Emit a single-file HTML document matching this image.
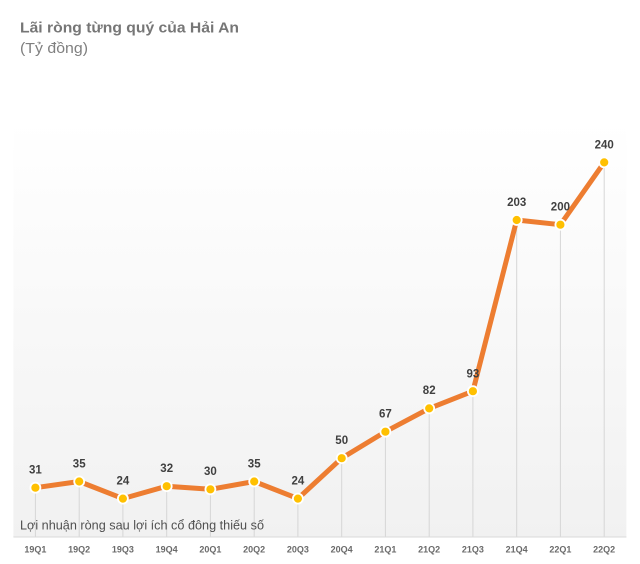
<!DOCTYPE html>
<html>
<head>
<meta charset="utf-8">
<style>
  html,body{margin:0;padding:0;background:#fff;}
  svg{display:block;}
  text{font-family:"Liberation Sans", sans-serif;}
</style>
</head>
<body>
<svg width="640" height="564" viewBox="0 0 640 564" xmlns="http://www.w3.org/2000/svg">
  <defs>
    <linearGradient id="bg" x1="0" y1="0" x2="0" y2="1">
      <stop offset="0" stop-color="#ffffff"/>
      <stop offset="1" stop-color="#f1f1f1"/>
    </linearGradient>
  </defs>
  <rect x="0" y="0" width="640" height="564" fill="#fff"/>
  <text x="20" y="32.5" font-size="14.5" font-weight="bold" fill="#767676" textLength="219" lengthAdjust="spacingAndGlyphs">Lãi ròng từng quý của Hải An</text>
  <text x="20" y="53" font-size="14.5" fill="#808080" textLength="68" lengthAdjust="spacingAndGlyphs">(Tỷ đồng)</text>

  <rect x="13.4" y="121" width="613" height="416" fill="url(#bg)"/>

  <g stroke="#d6d6d6" stroke-width="1">
    <line x1="35.4" y1="487.7" x2="35.4" y2="537"/>
    <line x1="79.2" y1="481.5" x2="79.2" y2="537"/>
    <line x1="122.9" y1="498.6" x2="122.9" y2="537"/>
    <line x1="166.7" y1="486.2" x2="166.7" y2="537"/>
    <line x1="210.4" y1="489.3" x2="210.4" y2="537"/>
    <line x1="254.2" y1="481.5" x2="254.2" y2="537"/>
    <line x1="297.9" y1="498.6" x2="297.9" y2="537"/>
    <line x1="341.7" y1="458.2" x2="341.7" y2="537"/>
    <line x1="385.4" y1="431.7" x2="385.4" y2="537"/>
    <line x1="429.2" y1="408.4" x2="429.2" y2="537"/>
    <line x1="472.9" y1="391.2" x2="472.9" y2="537"/>
    <line x1="516.7" y1="220.0" x2="516.7" y2="537"/>
    <line x1="560.4" y1="224.7" x2="560.4" y2="537"/>
    <line x1="604.2" y1="162.4" x2="604.2" y2="537"/>
  </g>
  <line x1="13.4" y1="537" x2="626.4" y2="537" stroke="#d9d9d9" stroke-width="1"/>

  <text x="20" y="529.5" font-size="13" fill="#505050" textLength="244" lengthAdjust="spacingAndGlyphs">Lợi nhuận ròng sau lợi ích cổ đông thiếu số</text>

  <polyline fill="none" stroke="#ED7D31" stroke-width="5" stroke-linejoin="round"
    points="35.4,487.7 79.2,481.5 122.9,498.6 166.7,486.2 210.4,489.3 254.2,481.5 297.9,498.6 341.7,458.2 385.4,431.7 429.2,408.4 472.9,391.2 516.7,220.0 560.4,224.7 604.2,162.4"/>

  <g fill="#FFC000" stroke="#ffffff" stroke-width="1.8">
    <circle cx="35.4" cy="487.7" r="5"/>
    <circle cx="79.2" cy="481.5" r="5"/>
    <circle cx="122.9" cy="498.6" r="5"/>
    <circle cx="166.7" cy="486.2" r="5"/>
    <circle cx="210.4" cy="489.3" r="5"/>
    <circle cx="254.2" cy="481.5" r="5"/>
    <circle cx="297.9" cy="498.6" r="5"/>
    <circle cx="341.7" cy="458.2" r="5"/>
    <circle cx="385.4" cy="431.7" r="5"/>
    <circle cx="429.2" cy="408.4" r="5"/>
    <circle cx="472.9" cy="391.2" r="5"/>
    <circle cx="516.7" cy="220.0" r="5"/>
    <circle cx="560.4" cy="224.7" r="5"/>
    <circle cx="604.2" cy="162.4" r="5"/>
  </g>

  <g font-size="11.5" font-weight="bold" fill="#404040" text-anchor="middle">
    <text x="35.4" y="473.5">31</text>
    <text x="79.2" y="467.5">35</text>
    <text x="122.9" y="484.5">24</text>
    <text x="166.7" y="472">32</text>
    <text x="210.4" y="475">30</text>
    <text x="254.2" y="467.5">35</text>
    <text x="297.9" y="484.5">24</text>
    <text x="341.7" y="444">50</text>
    <text x="385.4" y="417.5">67</text>
    <text x="429.2" y="394">82</text>
    <text x="472.9" y="377.5">93</text>
    <text x="516.7" y="206">203</text>
    <text x="560.4" y="210.5">200</text>
    <text x="604.2" y="148.5">240</text>
  </g>

  <g font-size="9" font-weight="bold" fill="#6a6a6a" text-anchor="middle">
    <text x="35.4" y="552.5">19Q1</text>
    <text x="79.2" y="552.5">19Q2</text>
    <text x="122.9" y="552.5">19Q3</text>
    <text x="166.7" y="552.5">19Q4</text>
    <text x="210.4" y="552.5">20Q1</text>
    <text x="254.2" y="552.5">20Q2</text>
    <text x="297.9" y="552.5">20Q3</text>
    <text x="341.7" y="552.5">20Q4</text>
    <text x="385.4" y="552.5">21Q1</text>
    <text x="429.2" y="552.5">21Q2</text>
    <text x="472.9" y="552.5">21Q3</text>
    <text x="516.7" y="552.5">21Q4</text>
    <text x="560.4" y="552.5">22Q1</text>
    <text x="604.2" y="552.5">22Q2</text>
  </g>
</svg>
</body>
</html>
